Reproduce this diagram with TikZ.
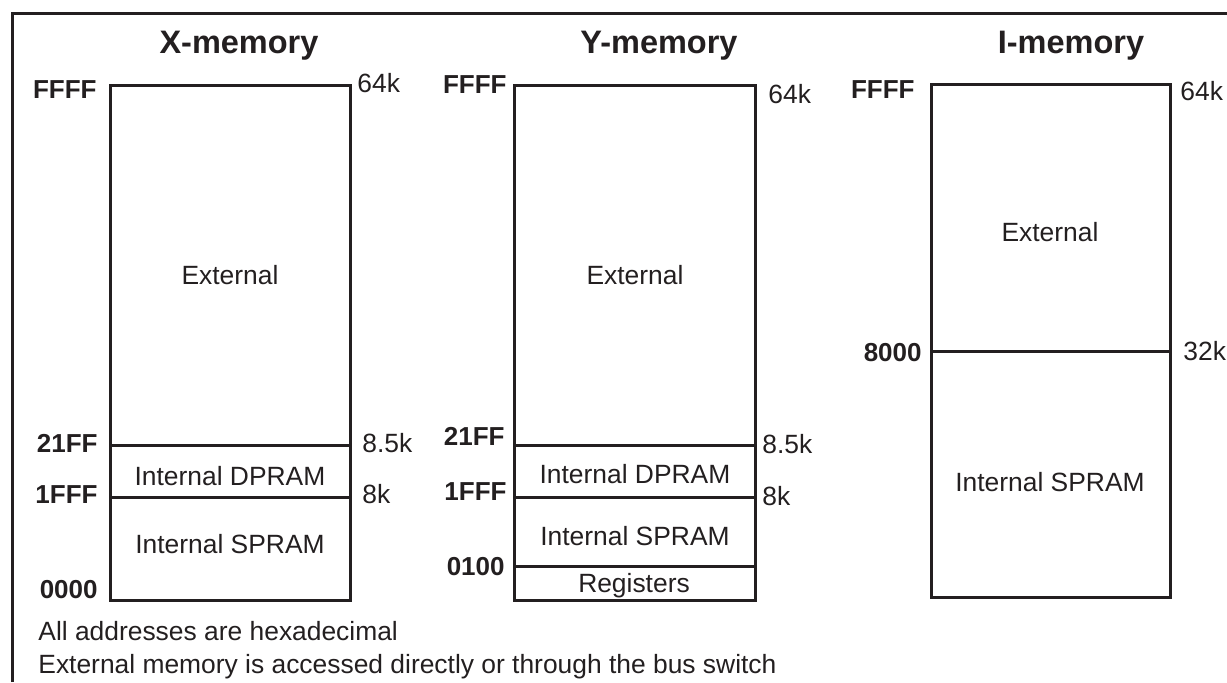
\documentclass[tikz,border=0pt]{standalone}
\usepackage{fontspec}
\setmainfont{Liberation Sans}
\definecolor{ink}{HTML}{231F20}
\begin{document}
\begin{tikzpicture}[x=0.5pt,y=-0.5pt,
  line/.style={draw=ink,line width=1.5pt},
  title/.style={inner sep=0,text=ink,font=\fontsize{16.25pt}{19pt}\selectfont\bfseries,anchor=base},
  addr/.style={inner sep=0,text=ink,font=\fontsize{13pt}{15pt}\selectfont\bfseries,anchor=base east},
  size/.style={inner sep=0,text=ink,font=\fontsize{13.2pt}{15pt}\selectfont,anchor=base west},
  region/.style={inner sep=0,text=ink,font=\fontsize{13.2pt}{15pt}\selectfont,anchor=base},
  note/.style={inner sep=0,text=ink,font=\fontsize{13.2pt}{15pt}\selectfont,anchor=base west}]
\useasboundingbox (0,0) rectangle (1227,682);
% frame
\coordinate (fbl) at (12,682);
\coordinate (ftl) at (12,13);
\coordinate (ftr) at (1227,13);
\draw[line] (fbl) -- (ftl) -- (ftr);

% ---------- X-memory ----------
\node[title] (xt) at (239,53) {X-memory};
\coordinate (xtl) at (110,85);
\coordinate (xbr) at (350,600);
\draw[line] (xtl) rectangle (xbr);
\coordinate (xa1) at (110,445); \coordinate (xa2) at (350,445);
\coordinate (xb1) at (110,497); \coordinate (xb2) at (350,497);
\draw[line] (xa1) -- (xa2);
\draw[line] (xb1) -- (xb2);
\node[addr] (xffff) at (97,98) {FFFF};
\node[addr] (x21ff) at (98,452) {21FF};
\node[addr] (x1fff) at (98,503) {1FFF};
\node[addr] (x0000) at (98,598) {0000};
\node[size] (x64k) at (357,92) {64k};
\node[size] (x85k) at (362,452) {8.5k};
\node[size] (x8k) at (362,503) {8k};
\node[region] (xext) at (230,284) {External};
\node[region] (xdp) at (230,485) {Internal DPRAM};
\node[region] (xsp) at (230,553) {Internal SPRAM};

% ---------- Y-memory ----------
\node[title] (yt) at (659,53) {Y-memory};
\coordinate (ytl) at (514,85);
\coordinate (ybr) at (755,600);
\draw[line] (ytl) rectangle (ybr);
\coordinate (ya1) at (514,445); \coordinate (ya2) at (755,445);
\coordinate (yb1) at (514,497); \coordinate (yb2) at (755,497);
\coordinate (yc1) at (514,566); \coordinate (yc2) at (755,566);
\draw[line] (ya1) -- (ya2);
\draw[line] (yb1) -- (yb2);
\draw[line] (yc1) -- (yc2);
\node[addr] (yffff) at (507,93) {FFFF};
\node[addr] (y21ff) at (505,445) {21FF};
\node[addr] (y1fff) at (507,500) {1FFF};
\node[addr] (y0100) at (505,575) {0100};
\node[size] (y64k) at (768,103) {64k};
\node[size] (y85k) at (762,453) {8.5k};
\node[size] (y8k) at (762,505) {8k};
\node[region] (yext) at (635,284) {External};
\node[region] (ydp) at (635,483) {Internal DPRAM};
\node[region] (ysp) at (635,545) {Internal SPRAM};
\node[region] (yreg) at (634,592) {Registers};

% ---------- I-memory ----------
\node[title] (it) at (1071,53) {I-memory};
\coordinate (itl) at (931,84);
\coordinate (ibr) at (1170,597);
\draw[line] (itl) rectangle (ibr);
\coordinate (ia1) at (931,351); \coordinate (ia2) at (1170,351);
\draw[line] (ia1) -- (ia2);
\node[addr] (iffff) at (915,98) {FFFF};
\node[addr] (i8000) at (922,361) {8000};
\node[size] (i64k) at (1180,100) {64k};
\node[size] (i32k) at (1183,360) {32k};
\node[region] (iext) at (1050,241) {External};
\node[region] (isp) at (1050,491) {Internal SPRAM};

% ---------- notes ----------
\node[note] (n1) at (38,640) {All addresses are hexadecimal};
\node[note] (n2) at (38,673) {External memory is accessed directly or through the bus switch};
\end{tikzpicture}
\end{document}
